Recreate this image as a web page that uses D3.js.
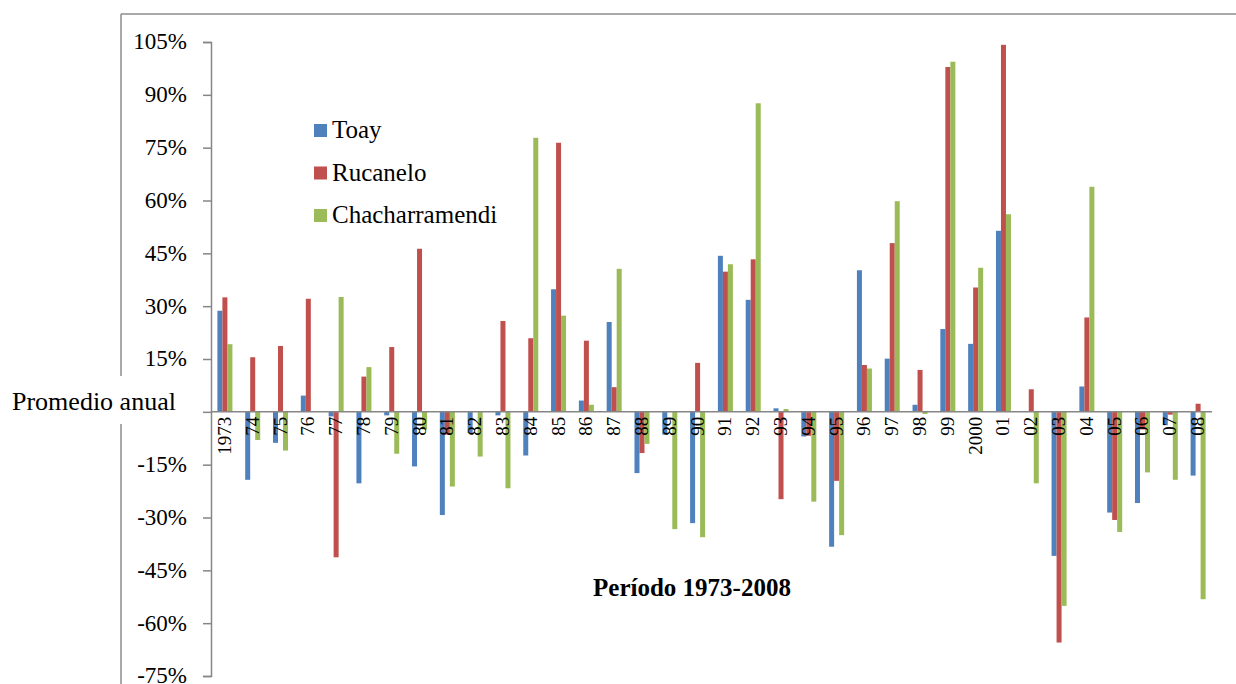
<!DOCTYPE html>
<html>
<head>
<meta charset="utf-8">
<script src="https://cdn.jsdelivr.net/npm/d3@7"></script>
<style>
  body { margin: 0; background: #fff; }
  svg text { font-family: "Liberation Serif", "Times New Roman", serif !important; fill: #000; }
</style>
</head>
<body>
<script>
var years = ["1973", "74", "75", "76", "77", "78", "79", "80", "81", "82", "83", "84",
  "85", "86", "87", "88", "89", "90", "91", "92", "93", "94", "95", "96",
  "97", "98", "99", "2000", "01", "02", "03", "04", "05", "06", "07", "08"];

var seriesNames = ["Toay", "Rucanelo", "Chacharramendi"];

var toay = [28.7, -19.3, -8.8, 4.6, -1.3, -20.3, -1.0, -15.5, -29.3, -6.0, -1.0, -12.4,
  34.8, 3.2, 25.5, -17.4, -6.5, -31.6, 44.3, 31.8, 1.0, -7.0, -38.3, 40.2,
  15.1, 2.0, 23.5, 19.3, 51.4, 0, -40.9, 7.2, -28.6, -25.9, -3.8, -18.1];

var rucanelo = [32.5, 15.5, 18.7, 32.1, -41.3, 10.0, 18.4, 46.3, -6.5, 0, 25.8, 20.9,
  76.4, 20.2, 7.0, -11.7, 0, 13.9, 39.8, 43.3, -24.8, -6.8, -19.6, 13.3,
  47.9, 11.9, 97.9, 35.3, 104.2, 6.4, -65.5, 26.8, -30.7, -5.0, -0.8, 2.3];

var chacharramendi = [19.2, -8.0, -11.0, 0, 32.6, 12.7, -11.9, -5.0, -21.2, -12.7, -21.7, 77.8,
  27.3, 2.0, 40.6, -9.1, -33.3, -35.6, 41.9, 87.6, 0.8, -25.5, -35.0, 12.3,
  59.8, -0.6, 99.4, 40.9, 56.1, -20.3, -55.1, 63.9, -34.1, -17.2, -19.3, -53.2];

var yTicks = [-75, -60, -45, -30, -15, 0, 15, 30, 45, 60, 75, 90, 105];
var colors = ["#4F81BD", "#C0504D", "#9BBB59"];
var serif = "'Liberation Serif', 'Times New Roman', serif";

var data = years.map(function (yr, i) {
  return { year: yr, values: [toay[i], rucanelo[i], chacharramendi[i]] };
});

var width = 1236, height = 684;

var svg = d3.select("body").append("svg")
  .attr("width", width)
  .attr("height", height);

// outer frame (top and left edges only visible)
svg.append("line")
  .attr("x1", 121).attr("y1", 14).attr("x2", width).attr("y2", 14)
  .attr("stroke", "#8c8c8c").attr("stroke-width", 1.5);
svg.append("line")
  .attr("x1", 121).attr("y1", 14).attr("x2", 121).attr("y2", height)
  .attr("stroke", "#8c8c8c").attr("stroke-width", 1.5);

var x0 = d3.scaleBand()
  .domain(years)
  .range([211, 1212])
  .paddingInner(0.46)
  .paddingOuter(0.23);

var x1 = d3.scaleBand()
  .domain(seriesNames)
  .range([0, x0.bandwidth()]);

var y = d3.scaleLinear()
  .domain([-75, 105])
  .range([676, 42]);

// bars
var groups = svg.selectAll(".grp")
  .data(data)
  .enter()
  .append("g")
  .attr("class", "grp")
  .attr("transform", function (d) { return "translate(" + x0(d.year) + ",0)"; });

groups.selectAll("rect")
  .data(function (d) {
    return d.values.map(function (v, k) { return { name: seriesNames[k], value: v, k: k }; });
  })
  .enter()
  .append("rect")
  .attr("x", function (d) { return x1(d.name); })
  .attr("width", x1.bandwidth())
  .attr("y", function (d) { return y(Math.max(0, d.value)); })
  .attr("height", function (d) { return Math.abs(y(d.value) - y(0)); })
  .attr("fill", function (d) { return colors[d.k]; });

// y axis
var yAxis = svg.append("g")
  .attr("transform", "translate(211,0)")
  .attr("font-family", serif)
  .call(d3.axisLeft(y)
    .tickValues(yTicks)
    .tickSize(8)
    .tickPadding(16)
    .tickFormat(function (d) { return d === 0 ? "" : d + "%"; }));
yAxis.attr("font-family", serif).attr("font-size", 23);
yAxis.select(".domain").attr("stroke", "#868686").attr("stroke-width", 1.5);
yAxis.selectAll(".tick line").attr("stroke", "#868686").attr("stroke-width", 1.5);
yAxis.selectAll(".tick text")
  .style("font-family", serif)
  .style("font-size", "23px")
  .attr("dy", "0.3em");

// zero line
svg.append("line")
  .attr("x1", 211).attr("x2", 1212)
  .attr("y1", y(0)).attr("y2", y(0))
  .attr("stroke", "#868686").attr("stroke-width", 1.5);

// category labels (rotated)
svg.selectAll(".xlab")
  .data(years)
  .enter()
  .append("text")
  .attr("class", "xlab")
  .attr("transform", function (d) {
    return "translate(" + (x0(d) + x0.bandwidth() / 2 + 6) + "," + (y(0) + 5) + ") rotate(-90)";
  })
  .style("text-anchor", "end")
  .style("font-family", serif)
  .style("font-size", "19px")
  .text(function (d) { return d; });

// legend
var legend = svg.selectAll(".leg")
  .data(seriesNames)
  .enter()
  .append("g")
  .attr("class", "leg")
  .attr("transform", function (d, i) { return "translate(314," + (124 + i * 42.5) + ")"; });
legend.append("rect")
  .attr("width", 13).attr("height", 13)
  .attr("fill", function (d, i) { return colors[i]; });
legend.append("text")
  .attr("x", 18).attr("y", 14)
  .style("font-family", serif)
  .style("font-size", "25px")
  .text(function (d) { return d; });

// axis titles
svg.append("rect")
  .attr("x", 8).attr("y", 376).attr("width", 180).attr("height", 48)
  .attr("fill", "#fff");
svg.append("text")
  .attr("x", 12).attr("y", 410)
  .style("font-family", serif)
  .style("font-size", "26px")
  .text("Promedio anual");

svg.append("text")
  .attr("x", 692).attr("y", 596)
  .style("text-anchor", "middle")
  .style("font-family", serif)
  .style("font-weight", "bold")
  .style("font-size", "25px")
  .text("Período 1973-2008");
</script>
</body>
</html>
